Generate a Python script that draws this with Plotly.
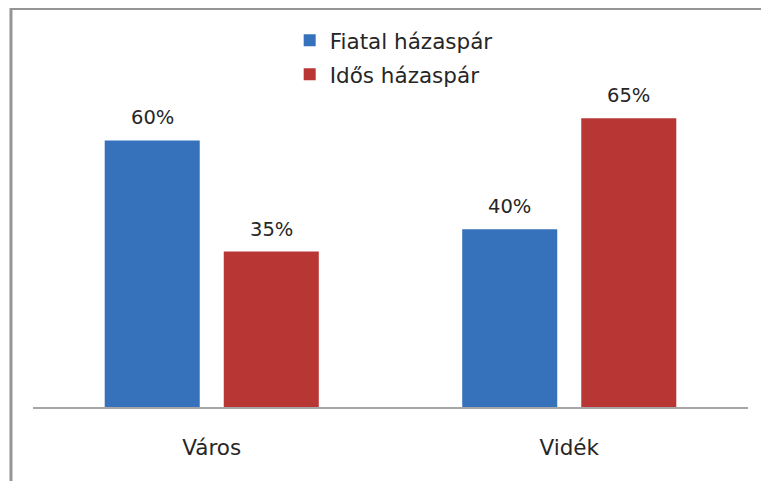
import plotly.graph_objects as go

categories = ["Város", "Vidék"]
series_names = ["Fiatal házaspár", "Idős házaspár"]
fiatal = [60, 40]
idos = [35, 65]
colors = ["#3671bb", "#b83634"]

values = [fiatal, idos]
FONT = "DejaVu Sans"
TXT = "#262626"

fig = go.Figure()
for name, vals, col in zip(series_names, values, colors):
    fig.add_trace(go.Bar(
        x=categories, y=vals, name=name,
        marker=dict(color=col, line=dict(width=0)),
        legendgroup=name,
    ))

# data labels
offsets = [-59.5, 59.5]
for vals, off in zip(values, offsets):
    for cat, v in zip(categories, vals):
        fig.add_annotation(
            x=cat, y=v, text=f"{v}%", showarrow=False,
            xshift=off, yshift=9, yanchor="bottom",
            font=dict(family=FONT, size=19.5, color=TXT),
        )

# chart border (top and left visible)
fig.add_shape(type="rect", xref="paper", yref="paper",
              x0=-0.0308, x1=1.06, y0=-0.35, y1=1.281,
              line=dict(color="#959595", width=3), fillcolor="rgba(0,0,0,0)",
              layer="below")

fig.update_layout(
    width=769, height=481,
    margin=dict(l=25, r=29, t=87.5, b=82),
    paper_bgcolor="white", plot_bgcolor="white",
    barmode="group", bargap=0.334, bargroupgap=0.2017,
    showlegend=True,
    legend=dict(x=0.359, y=1.245, xanchor="left", yanchor="top",
                font=dict(family=FONT, size=21.5, color=TXT),
                tracegroupgap=3, bgcolor="rgba(0,0,0,0)"),
    font=dict(family=FONT, size=21.5, color=TXT),
    xaxis=dict(showline=True, linecolor="#a6a6a6", linewidth=1.5,
               ticks="", ticklabelstandoff=20,
               tickfont=dict(family=FONT, size=21.5, color=TXT),
               showgrid=False, zeroline=False),
    yaxis=dict(range=[0, 70], visible=False, showgrid=False, zeroline=False),
)

fig.write_html("out.html")
